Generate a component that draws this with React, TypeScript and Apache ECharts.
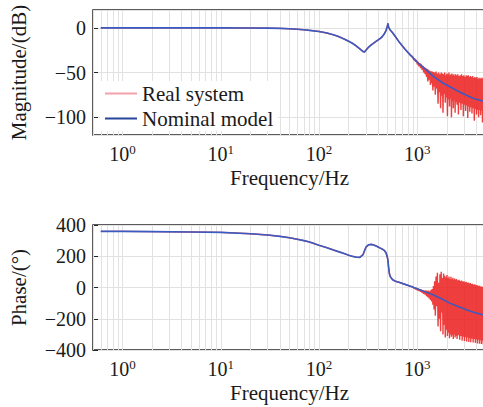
import React, { useEffect, useRef } from "react";
import * as echarts from "echarts";

// ---------- data ----------
const freqNom = [0.6, 1, 2, 5, 10, 20, 30, 40, 50, 60, 70, 80, 100, 120, 140, 160, 180, 200, 220, 240, 260, 280, 290, 300, 320, 340, 360, 380, 400, 420, 440, 460, 480, 495, 502, 510, 520, 530, 560, 600, 660, 750, 850, 1000, 1200, 1445, 1800, 2140, 2600, 3160, 3800, 4630, 5000];
const magNom = [0, 0, 0, 0, 0, -0.1, -0.3, -0.6, -1.0, -1.6, -2.2, -2.8, -4.1, -5.8, -7.8, -10, -12.5, -15, -17.5, -20.5, -23.5, -26.5, -27, -25, -21.5, -19, -17, -15.2, -13.5, -11.8, -9.8, -7, -3, 1.5, 5, 1, -1, -2.5, -5.5, -10, -16.5, -24, -30.5, -38.5, -46, -54, -61.5, -66, -71, -75.5, -79.5, -82, -83];
const phaseNom = [359.5, 359, 357.5, 355.5, 353, 344, 336, 327, 318, 309, 300, 291, 270, 255, 240, 228, 217, 207, 199, 194, 193, 210, 235, 258, 274, 276, 272, 266, 259, 252, 246, 238, 222, 195, 175, 130, 88, 70, 50, 40, 32, 20, 8, -8, -28, -47, -75, -100, -122, -143, -160, -175, -182];

// measured (noisy) response above 900 Hz
const freqNoise = [
  900, 920, 940, 960, 980, 1000, 1020, 1040, 1060, 1080, 1100, 1120, 1140, 1160, 1180, 1200, 1220, 1240, 1260, 1280, 1300, 1320, 1340, 1360, 1380, 1400, 1420, 1440, 1460, 1480,
  1500, 1525, 1550, 1575, 1600, 1625, 1650, 1675, 1700, 1725, 1750, 1775, 1800, 1825, 1850, 1875, 1900, 1925, 1950, 1975, 2000, 2025, 2050, 2075, 2100, 2125, 2150, 2175, 2200, 2225, 2250, 2275, 2300, 2325, 2350, 2375, 2400, 2425, 2450, 2475,
  2500, 2540, 2580, 2620, 2660, 2700, 2740, 2780, 2820, 2860, 2900, 2940, 2980, 3020, 3060, 3100, 3140, 3180, 3220, 3260, 3300, 3340, 3380, 3420, 3460,
  3500, 3550, 3600, 3650, 3700, 3750, 3800, 3850, 3900, 3950, 4000, 4050, 4100, 4150, 4200, 4250, 4300, 4350, 4400, 4450, 4500, 4550, 4600, 4650, 4700, 4750, 4800, 4850, 4900, 4950, 5000,
];
const magNoise = [
  -32.5, -36, -34.5, -38, -36, -41, -38, -43, -39.5, -45, -41, -47, -42.5, -50, -44, -52, -45, -55, -46, -60, -47, -58, -48, -64, -48.5, -62, -49, -70, -49.5, -66,
  -50, -75, -49, -68, -51, -85, -50, -72, -52, -90, -50, -76, -51, -95, -52, -74, -50, -84, -53, -78, -51, -99, -52, -80, -50, -88, -53, -79, -52, -100, -51, -82, -53, -90, -52, -81, -54, -95, -52, -83,
  -53, -86, -52, -97, -54, -84, -53, -92, -52, -85, -54, -99, -53, -86, -55, -93, -53, -87, -54, -101, -53, -88, -55, -94, -54,
  -89, -55, -96, -54, -90, -56, -104, -55, -91, -56, -97, -55, -92, -57, -100, -56, -92, -57, -98, -56, -93, -57, -106, -56, -94, -58, -97, -57, -93, -58, -96,
];
const phaseNoise = [
  5, -5, 0, -12, -4, -18, -8, -22, -12, -28, -14, -34, -17, -40, -20, -46, -18, -55, -22, -62, -20, -70, -24, -80, -15, -90, -10, -110, 10, -140,
  40, -180, 70, -120, 95, -250, 30, -200, 85, -280, 100, -160, 60, -300, 90, -240, 75, -320, 65, -270, 80, -310, 60, -290, 70, -325, 55, -300, 68, -315, 52, -305, 62, -330, 50, -300, 58, -320, 48, -310,
  55, -330, 46, -305, 50, -335, 42, -310, 45, -340, 38, -315, 40, -342, 34, -318, 36, -345, 30, -320, 32, -348, 26, -325, 28,
  -350, 22, -328, 24, -352, 18, -330, 20, -355, 14, -332, 16, -358, 10, -335, 12, -360, 6, -338, 8, -362, 3, -340, 4, -365, 0, -342, 1, -366, -3, -345,
];

const gridFreqs = [0.5, 0.6, 0.7, 0.8, 0.9, 1, 2, 3, 4, 5, 6, 7, 8, 9, 10, 20, 30, 40, 50, 60, 70, 80, 90, 100, 200, 300, 400, 500, 600, 700, 800, 900, 1000, 2000, 3000, 4000, 5000];

const seriesNames = ["Real system", "Nominal model"];
const axisNames = { x: "Frequency/Hz", mag: "Magnitude/(dB)", phase: "Phase/(°)" };

const SERIF = "Liberation Serif";
const TXT = "#1a1a1a";

export default function App() {
  const ref = useRef<HTMLDivElement>(null);
  useEffect(() => {
    if (!ref.current) return;
    const chart = echarts.init(ref.current, null, { renderer: "svg" });

    const nomMag = freqNom.map((f, i) => [f, magNom[i]]);
    const nomPh = freqNom.map((f, i) => [f, phaseNom[i]]);
    const lowIdx = freqNom.map((f, i) => i).filter((i) => freqNom[i] < 900);
    const realMag = lowIdx.map((i) => [freqNom[i], magNom[i]]).concat(freqNoise.map((f, i) => [f, magNoise[i]]));
    const realPh = lowIdx.map((i) => [freqNom[i], phaseNom[i]]).concat(freqNoise.map((f, i) => [f, phaseNoise[i]]));

    const xAxis = [0, 1].map((i) => ({
      type: "log",
      logBase: 10,
      gridIndex: i,
      min: 0.5,
      max: 5000,
      axisLine: { show: false },
      axisTick: { show: true, inside: true, length: 5, lineStyle: { color: "#262626" } },
      splitLine: { show: false },
      axisLabel: {
        margin: 8,
        showMinLabel: false,
        showMaxLabel: false,
        color: TXT,
        fontFamily: SERIF,
        fontSize: 20,
        formatter: (v: number) => {
          const e = Math.log10(v);
          if (Math.abs(e - Math.round(e)) > 1e-6) return "";
          return "10{sup|" + Math.round(e) + "}";
        },
        rich: {
          sup: { fontSize: 13, fontFamily: SERIF, color: TXT, verticalAlign: "top", padding: [0, 0, 9, 0] },
        },
      },
      name: axisNames.x,
      nameLocation: "middle",
      nameGap: 32,
      nameTextStyle: { color: TXT, fontFamily: SERIF, fontSize: 21 },
    }));

    const yCommon = {
      type: "value",
      axisLine: { show: false },
      axisTick: { show: true, inside: true, length: 5, lineStyle: { color: "#262626" } },
      splitLine: { show: true, lineStyle: { color: "#e2e2e2", width: 1 } },
      nameLocation: "middle",
      nameGap: 64,
      nameTextStyle: { color: TXT, fontFamily: SERIF, fontSize: 21 },
    };
    const yLabel = {
      margin: 7,
      color: TXT,
      fontFamily: SERIF,
      fontSize: 20,
      showMinLabel: false,
      showMaxLabel: false,
      formatter: (v: number) => String(v).replace("-", "\u2212"),
    };
    const yAxis = [
      { ...yCommon, gridIndex: 0, min: -120, max: 20, splitNumber: 3, name: axisNames.mag, axisLabel: yLabel },
      {
        ...yCommon,
        gridIndex: 1,
        min: -400,
        max: 400,
        interval: 200,
        name: axisNames.phase,
        axisLabel: { ...yLabel, showMinLabel: true, showMaxLabel: true },
      },
    ];

    const gridSeries = [0, 1].map((i) => ({
      type: "line",
      xAxisIndex: i,
      yAxisIndex: i,
      data: [[1, 0]],
      symbol: "none",
      lineStyle: { width: 0 },
      silent: true,
      z: 1,
      markLine: {
        z: 1,
        silent: true,
        symbol: "none",
        label: { show: false },
        lineStyle: { color: "#e2e2e2", width: 1, type: "solid" },
        data: gridFreqs.map((f) => ({ xAxis: f })),
      },
    }));

    const realColor = "rgba(236,28,28,0.85)";
    const nomColor = "#3a5cc2";

    chart.setOption({
      animation: false,
      textStyle: { fontFamily: SERIF },
      grid: [
        { left: 93, top: 10, width: 393, height: 125, show: true, borderColor: "#262626", borderWidth: 1.5, backgroundColor: "#fff" },
        { left: 93, top: 225, width: 393, height: 125, show: true, borderColor: "#262626", borderWidth: 1.5, backgroundColor: "#fff" },
      ],
      xAxis,
      yAxis,
      legend: {
        orient: "vertical",
        left: 100,
        top: 81,
        padding: [2, 5, 2, 5],
        itemGap: 4,
        itemWidth: 32,
        itemHeight: 2,
        icon: "rect",
        backgroundColor: "#fff",
        textStyle: { color: TXT, fontFamily: SERIF, fontSize: 21 },
        data: [
          { name: seriesNames[0], itemStyle: { color: "#f2a2aa" } },
          { name: seriesNames[1], itemStyle: { color: "#26449a" } },
        ],
      },
      series: [
        ...gridSeries,
        { name: seriesNames[0], type: "line", xAxisIndex: 0, yAxisIndex: 0, data: realMag, symbol: "none", z: 2, lineStyle: { color: realColor, width: 1.4 }, itemStyle: { color: realColor } },
        { name: seriesNames[1], type: "line", xAxisIndex: 0, yAxisIndex: 0, data: nomMag, symbol: "none", z: 3, lineStyle: { color: nomColor, width: 1.6 }, itemStyle: { color: nomColor } },
        { name: seriesNames[0], type: "line", xAxisIndex: 1, yAxisIndex: 1, data: realPh, symbol: "none", z: 2, lineStyle: { color: realColor, width: 1.4 }, itemStyle: { color: realColor } },
        { name: seriesNames[1], type: "line", xAxisIndex: 1, yAxisIndex: 1, data: nomPh, symbol: "none", z: 3, lineStyle: { color: nomColor, width: 1.6 }, itemStyle: { color: nomColor } },
      ],
    });
    return () => chart.dispose();
  }, []);

  return (
    <div style={{ position: "absolute", left: 0, top: 0, width: 483, height: 407, overflow: "hidden", background: "#fff" }}>
      <div ref={ref} style={{ width: 490, height: 407 }} />
    </div>
  );
}
